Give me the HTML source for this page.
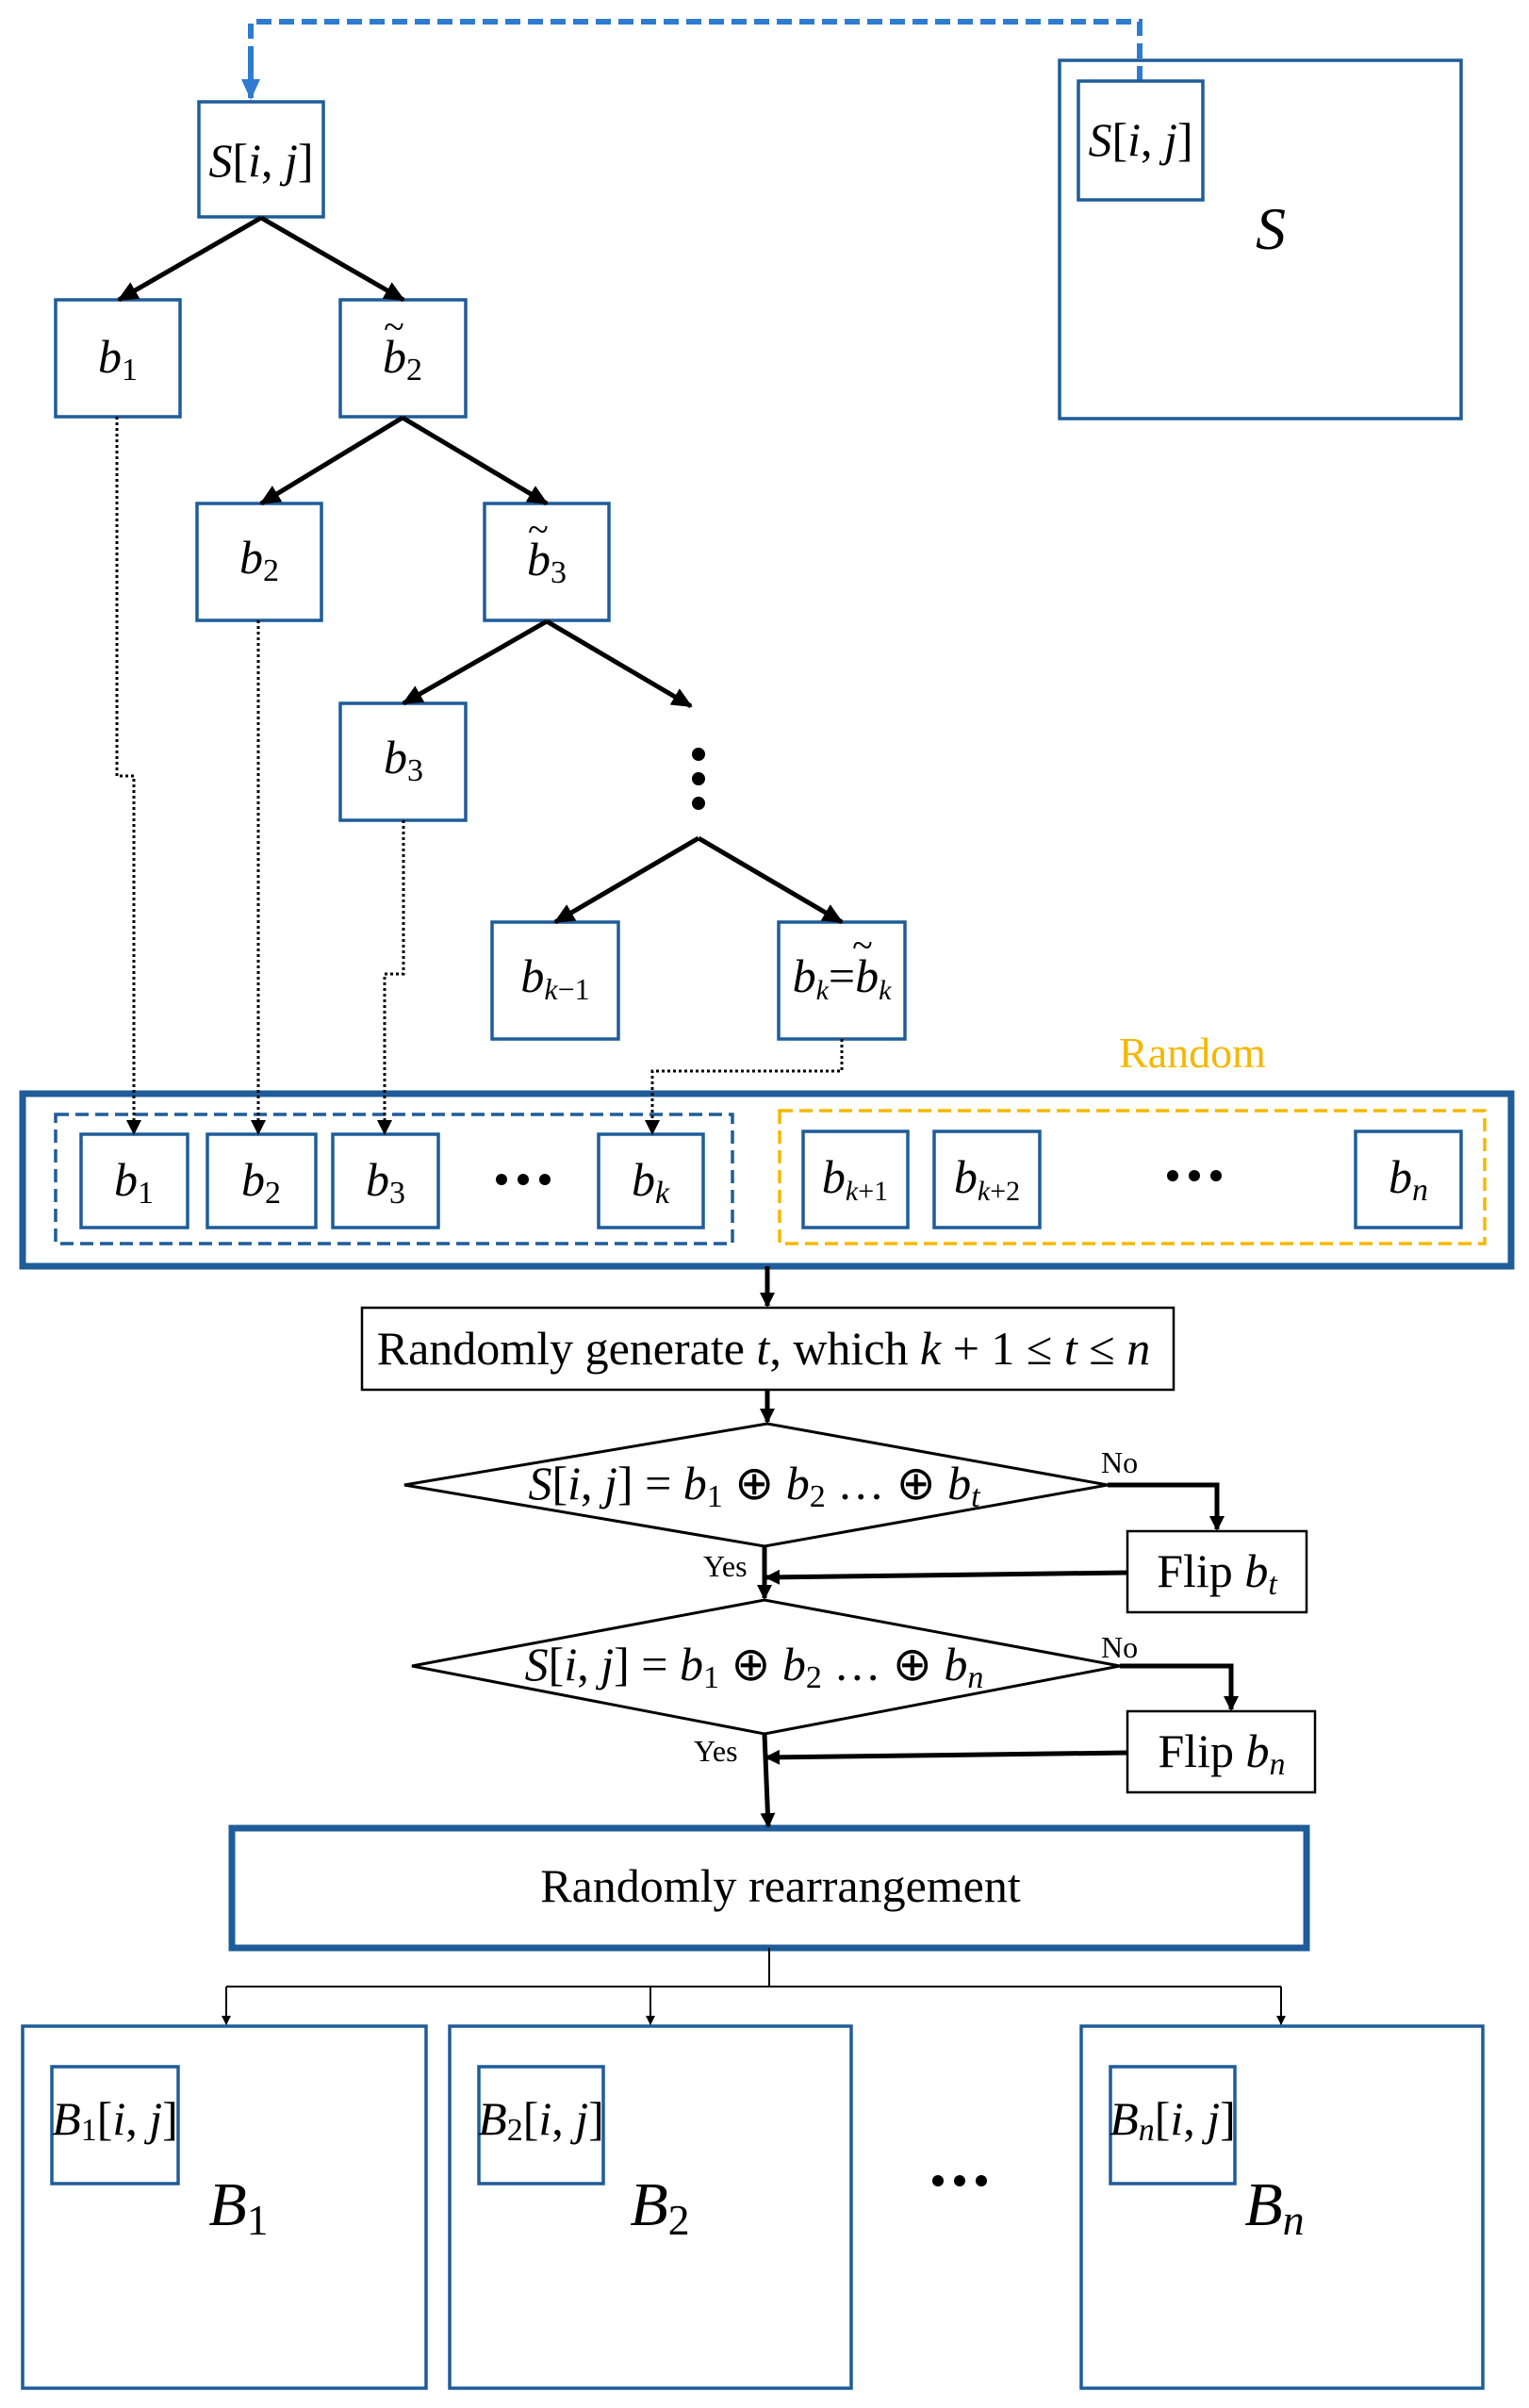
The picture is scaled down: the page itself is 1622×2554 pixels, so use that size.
<!DOCTYPE html>
<html><head><meta charset="utf-8"><style>
html,body{margin:0;padding:0;background:#fff}
svg{display:block}
text{font-family:"Liberation Serif",serif;fill:#000}
.i{font-style:italic}
</style></head><body>
<svg width="1622" height="2554" viewBox="0 0 1622 2554" xmlns="http://www.w3.org/2000/svg">
<defs>
<marker id="a" markerWidth="10" markerHeight="10" refX="9" refY="5" orient="auto" markerUnits="userSpaceOnUse"><path d="M0,0 L10,5 L0,10z" fill="#000"/></marker>
<marker id="al" markerWidth="22" markerHeight="20" refX="20" refY="10" orient="auto" markerUnits="userSpaceOnUse"><path d="M0,0 L22,10 L0,20z" fill="#000"/></marker>
<marker id="ab" markerWidth="22" markerHeight="20" refX="20" refY="10" orient="auto" markerUnits="userSpaceOnUse"><path d="M0,0 L22,10 L0,20z" fill="#2E7BD0"/></marker>
<marker id="am" markerWidth="16" markerHeight="16" refX="14" refY="8" orient="auto" markerUnits="userSpaceOnUse"><path d="M0,0 L16,8 L0,16z" fill="#000"/></marker>
</defs>
<g fill="none" stroke="#1F5C99" stroke-width="3.5">
<path d="M1209,86 V23 H266 V60" stroke="#2E7BD0" stroke-width="6" stroke-dasharray="16,8"/>
<line x1="266" y1="60" x2="266" y2="104" stroke="#2E7BD0" stroke-width="6" marker-end="url(#ab)"/>
<rect x="211" y="108" width="132" height="122"/>
<rect x="1124" y="64" width="426" height="380"/>
<rect x="1144" y="86" width="132" height="126"/>
<rect x="59" y="318" width="132" height="124"/>
<rect x="361" y="318" width="133" height="124"/>
<rect x="209" y="534" width="132" height="124"/>
<rect x="514" y="534" width="132" height="124"/>
<rect x="361" y="746" width="133" height="124"/>
<rect x="522" y="978" width="134" height="124"/>
<rect x="826" y="978" width="134" height="124"/>
<rect x="24" y="1160" width="1579" height="183" stroke-width="7"/>
<rect x="59" y="1182" width="718" height="137" stroke-dasharray="14,7"/>
<rect x="827" y="1178" width="748" height="141" stroke="#F5B800" stroke-dasharray="14,7"/>
<rect x="86" y="1203" width="113" height="99"/>
<rect x="220" y="1203" width="115" height="99"/>
<rect x="353" y="1203" width="112" height="99"/>
<rect x="635" y="1203" width="111" height="99"/>
<rect x="852" y="1200" width="111" height="102"/>
<rect x="991" y="1200" width="112" height="102"/>
<rect x="1438" y="1200" width="112" height="102"/>
<rect x="246" y="1939" width="1140" height="127" stroke-width="7"/>
<rect x="24" y="2149" width="428" height="384"/>
<rect x="477" y="2149" width="426" height="384"/>
<rect x="1147" y="2149" width="426" height="384"/>
<rect x="55" y="2192" width="134" height="124"/>
<rect x="508" y="2192" width="132" height="124"/>
<rect x="1178" y="2192" width="132" height="124"/>
</g>
<g stroke="#000" stroke-width="5" fill="none">
<line x1="277" y1="231" x2="126" y2="318" marker-end="url(#al)"/>
<line x1="277" y1="231" x2="428" y2="318" marker-end="url(#al)"/>
<line x1="427" y1="443" x2="277" y2="534" marker-end="url(#al)"/>
<line x1="427" y1="443" x2="580" y2="534" marker-end="url(#al)"/>
<line x1="580" y1="659" x2="428" y2="746" marker-end="url(#al)"/>
<line x1="580" y1="659" x2="733" y2="749" marker-end="url(#al)"/>
<line x1="741" y1="889" x2="589" y2="978" marker-end="url(#al)"/>
<line x1="741" y1="889" x2="893" y2="978" marker-end="url(#al)"/>
</g>
<g fill="#000"><circle cx="741" cy="800" r="7"/><circle cx="741" cy="826" r="7"/><circle cx="741" cy="852" r="7"/></g>
<g stroke="#000" stroke-width="3" fill="none" stroke-dasharray="3,3">
<path d="M124,442 V823 H142 V1195"/>
<path d="M274,658 V1195"/>
<path d="M428,870 V1033 H408 V1195"/>
<path d="M893,1102 V1136 H692 V1195"/>
</g>
<g fill="#000">
<path d="M134,1188 L150,1188 L142,1204z"/><path d="M266,1188 L282,1188 L274,1204z"/>
<path d="M400,1188 L416,1188 L408,1204z"/><path d="M684,1188 L700,1188 L692,1204z"/>
</g>
<rect x="384" y="1387" width="861" height="87" fill="none" stroke="#000" stroke-width="2.5"/>
<polygon points="429,1575 814,1510 1175,1575 811,1640" fill="none" stroke="#000" stroke-width="3"/>
<polygon points="437,1767 811,1697 1188,1767 811,1839" fill="none" stroke="#000" stroke-width="3"/>
<rect x="1196" y="1624" width="190" height="86" fill="none" stroke="#000" stroke-width="2.5"/>
<rect x="1196" y="1815" width="199" height="86" fill="none" stroke="#000" stroke-width="2.5"/>
<g stroke="#000" stroke-width="5" fill="none">
<line x1="814" y1="1343" x2="814" y2="1385" marker-end="url(#am)"/>
<line x1="814" y1="1474" x2="814" y2="1508" marker-end="url(#am)"/>
<path d="M1175,1575 H1291 V1622" marker-end="url(#am)"/>
<line x1="1196" y1="1668" x2="813" y2="1673" marker-end="url(#am)"/>
<line x1="811" y1="1640" x2="811" y2="1695" marker-end="url(#am)"/>
<path d="M1188,1767 H1306 V1813" marker-end="url(#am)"/>
<line x1="1196" y1="1859" x2="813" y2="1864" marker-end="url(#am)"/>
<line x1="811" y1="1839" x2="815" y2="1937" marker-end="url(#am)"/>
</g>
<g stroke="#000" stroke-width="2" fill="none">
<path d="M816,2066 V2107"/><path d="M240,2107 H1359"/>
<line x1="240" y1="2107" x2="240" y2="2147" marker-end="url(#a)"/>
<line x1="690" y1="2107" x2="690" y2="2147" marker-end="url(#a)"/>
<line x1="1359" y1="2107" x2="1359" y2="2147" marker-end="url(#a)"/>
</g>
<g fill="#000"><circle cx="532" cy="1251" r="6"/><circle cx="555" cy="1251" r="6"/><circle cx="578" cy="1251" r="6"/>
<circle cx="1244" cy="1247" r="6"/><circle cx="1267" cy="1247" r="6"/><circle cx="1290" cy="1247" r="6"/>
<circle cx="995" cy="2313" r="6"/><circle cx="1018" cy="2313" r="6"/><circle cx="1041" cy="2313" r="6"/></g>
<g font-size="50" text-anchor="middle">
<text x="277" y="187"><tspan class="i">S</tspan>[<tspan class="i">i</tspan>, <tspan class="i">j</tspan>]</text>
<text x="1210" y="165"><tspan class="i">S</tspan>[<tspan class="i">i</tspan>, <tspan class="i">j</tspan>]</text>
<text x="1348" y="264" font-size="64" class="i">S</text>
<text x="125" y="395"><tspan class="i">b</tspan><tspan font-size="34" dy="8">1</tspan></text>
<text x="427" y="395"><tspan class="i">b</tspan><tspan font-size="34" dy="8">2</tspan></text>
<text x="418" y="360" font-size="40">~</text>
<text x="275" y="608"><tspan class="i">b</tspan><tspan font-size="34" dy="8">2</tspan></text>
<text x="580" y="610"><tspan class="i">b</tspan><tspan font-size="34" dy="8">3</tspan></text>
<text x="571" y="575" font-size="40">~</text>
<text x="428" y="820"><tspan class="i">b</tspan><tspan font-size="34" dy="8">3</tspan></text>
<text x="589" y="1052"><tspan class="i">b</tspan><tspan font-size="32" dy="8"><tspan class="i">k</tspan>−1</tspan></text>
<text x="893" y="1052"><tspan class="i">b</tspan><tspan font-size="30" class="i" dy="8">k</tspan><tspan dy="-8">=</tspan><tspan class="i">b</tspan><tspan font-size="30" class="i" dy="8">k</tspan></text>
<text x="915" y="1016" font-size="40">~</text>
<text x="1265" y="1132" font-size="46" style="fill:#F5B800">Random</text>
<text x="142" y="1268"><tspan class="i">b</tspan><tspan font-size="34" dy="8">1</tspan></text>
<text x="277" y="1268"><tspan class="i">b</tspan><tspan font-size="34" dy="8">2</tspan></text>
<text x="409" y="1268"><tspan class="i">b</tspan><tspan font-size="34" dy="8">3</tspan></text>
<text x="690" y="1268"><tspan class="i">b</tspan><tspan font-size="34" class="i" dy="8">k</tspan></text>
<text x="907" y="1265"><tspan class="i">b</tspan><tspan font-size="30" dy="8"><tspan class="i">k</tspan>+1</tspan></text>
<text x="1047" y="1265"><tspan class="i">b</tspan><tspan font-size="30" dy="8"><tspan class="i">k</tspan>+2</tspan></text>
<text x="1494" y="1265"><tspan class="i">b</tspan><tspan font-size="34" class="i" dy="8">n</tspan></text>
<text x="810" y="1447">Randomly generate <tspan class="i">t</tspan>, which <tspan class="i">k</tspan> + 1 ≤ <tspan class="i">t</tspan> ≤ <tspan class="i">n</tspan></text>
<text x="800" y="1590"><tspan class="i">S</tspan>[<tspan class="i">i</tspan>, <tspan class="i">j</tspan>] = <tspan class="i">b</tspan><tspan font-size="34" dy="8">1</tspan><tspan dy="-8"> ⊕ </tspan><tspan class="i">b</tspan><tspan font-size="34" dy="8">2</tspan><tspan dy="-8"> … ⊕ </tspan><tspan class="i">b</tspan><tspan font-size="34" class="i" dy="8">t</tspan></text>
<text x="800" y="1782"><tspan class="i">S</tspan>[<tspan class="i">i</tspan>, <tspan class="i">j</tspan>] = <tspan class="i">b</tspan><tspan font-size="34" dy="8">1</tspan><tspan dy="-8"> ⊕ </tspan><tspan class="i">b</tspan><tspan font-size="34" dy="8">2</tspan><tspan dy="-8"> … ⊕ </tspan><tspan class="i">b</tspan><tspan font-size="34" class="i" dy="8">n</tspan></text>
<text x="1291" y="1683">Flip <tspan class="i">b</tspan><tspan font-size="34" class="i" dy="8">t</tspan></text>
<text x="1296" y="1874">Flip <tspan class="i">b</tspan><tspan font-size="34" class="i" dy="8">n</tspan></text>
<text x="828" y="2017">Randomly rearrangement</text>
<text x="122" y="2264"><tspan class="i">B</tspan><tspan font-size="34" dy="6">1</tspan><tspan dy="-6">[</tspan><tspan class="i">i</tspan>, <tspan class="i">j</tspan>]</text>
<text x="574" y="2264"><tspan class="i">B</tspan><tspan font-size="34" dy="6">2</tspan><tspan dy="-6">[</tspan><tspan class="i">i</tspan>, <tspan class="i">j</tspan>]</text>
<text x="1244" y="2264"><tspan class="i">B</tspan><tspan font-size="34" class="i" dy="6">n</tspan><tspan dy="-6">[</tspan><tspan class="i">i</tspan>, <tspan class="i">j</tspan>]</text>
<text x="253" y="2360" font-size="66"><tspan class="i">B</tspan><tspan font-size="46" dy="10">1</tspan></text>
<text x="700" y="2360" font-size="66"><tspan class="i">B</tspan><tspan font-size="46" dy="10">2</tspan></text>
<text x="1352" y="2360" font-size="66"><tspan class="i">B</tspan><tspan font-size="46" class="i" dy="10">n</tspan></text>
</g>
<g font-size="32">
<text x="1168" y="1562">No</text>
<text x="1168" y="1758">No</text>
<text x="746" y="1672">Yes</text>
<text x="736" y="1868">Yes</text>
</g>
</svg>
</body></html>
